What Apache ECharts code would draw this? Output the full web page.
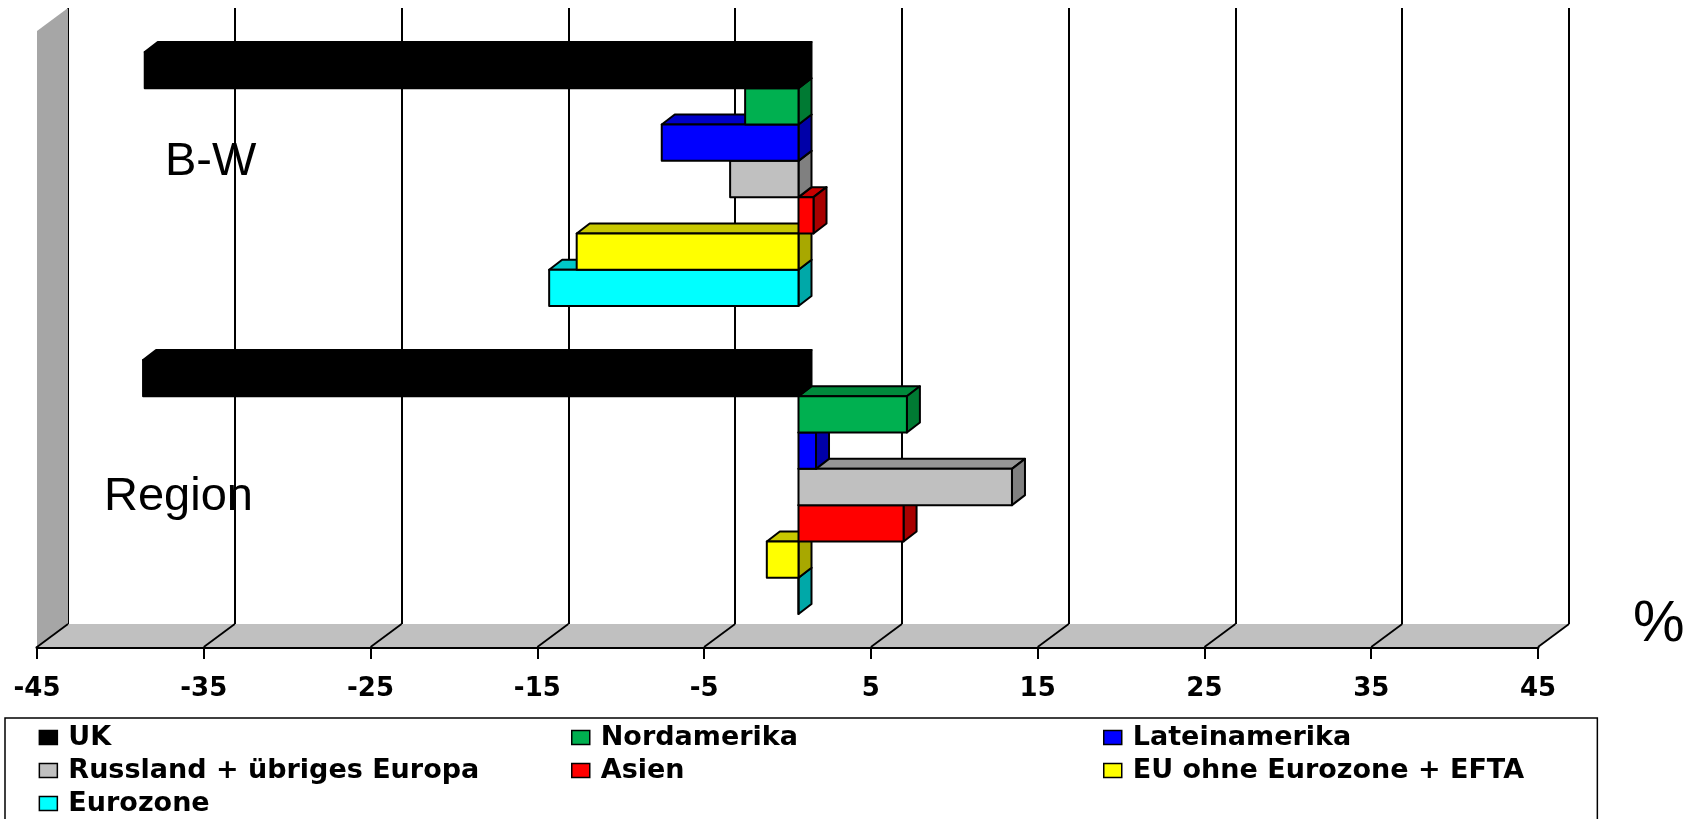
<!DOCTYPE html>
<html>
<head>
<meta charset="utf-8">
<script src="https://cdn.jsdelivr.net/npm/echarts@6/dist/echarts.min.js"></script>
<style>
html,body{margin:0;padding:0;background:#ffffff;}
#chart{width:1696px;height:819px;}
</style>
</head>
<body>
<div id="chart"></div>
<script>
// ---- data ----
const categories = ['B-W', 'Region'];
const tickValues = [-45, -35, -25, -15, -5, 5, 15, 25, 35, 45];
const seriesNames = ['UK', 'Nordamerika', 'Lateinamerika', 'Russland + übriges Europa', 'Asien', 'EU ohne Eurozone + EFTA', 'Eurozone'];
const ukValues = [-39.2, -39.3];
const nordamerikaValues = [-3.2, 6.5];
const lateinamerikaValues = [-8.2, 1.05];
const russlandValues = [-4.1, 12.8];
const asienValues = [0.9, 6.3];
const euOhneEurozoneValues = [-13.3, -1.9];
const eurozoneValues = [-14.95, 0];
const seriesValues = [ukValues, nordamerikaValues, lateinamerikaValues, russlandValues, asienValues, euOhneEurozoneValues, eurozoneValues];

// ---- styles ----
const frontColors = ['#000000', '#00B050', '#0000FF', '#C0C0C0', '#FF0000', '#FFFF00', '#00FFFF'];
const topColors   = ['#000000', '#008A3C', '#0000C8', '#969696', '#C80000', '#C8C800', '#00C8C8'];
const sideColors  = ['#000000', '#007A33', '#0000A8', '#808080', '#A80000', '#A8A800', '#00A8A8'];
const WALL_DX = 31, WALL_DY = 23;      // depth of the floor / side wall
const BAR_DX = -20, BAR_DY = 17;       // bar front plane relative to back wall
const DEPTH_DX = 13, DEPTH_DY = 10;    // bar thickness
const BAR_FRACTION = 0.825;
const boldFont = 'DejaVu Sans';
const plainFont = 'Liberation Sans';

const chart = echarts.init(document.getElementById('chart'), null, {renderer: 'canvas'});

function frameSeries() {
  return {
    type: 'custom',
    name: 'frame',
    xAxisIndex: 0, yAxisIndex: 0,
    silent: true,
    clip: false,
    z: 1,
    encode: {x: 0, y: 1},
    data: [[0, 0]],
    renderItem: function (params, api) {
      const cs = params.coordSys;
      const x0 = cs.x, x1 = cs.x + cs.width, y0 = cs.y, y1 = cs.y + cs.height;
      const children = [
        {type: 'polygon', shape: {points: [[x0, y0], [x0, y1], [x0 - WALL_DX, y1 + WALL_DY], [x0 - WALL_DX, y0 + WALL_DY]]},
          style: {fill: '#A6A6A6'}},
        {type: 'polygon', shape: {points: [[x0, y1], [x1, y1], [x1 - WALL_DX, y1 + WALL_DY], [x0 - WALL_DX, y1 + WALL_DY]]},
          style: {fill: '#C0C0C0'}}
      ];
      tickValues.forEach(function (t) {
        const px = api.coord([t, 0])[0];
        children.push({type: 'line', shape: {x1: px, y1: y1, x2: px - WALL_DX, y2: y1 + WALL_DY},
          style: {stroke: '#000', lineWidth: 1.8}});
      });
      return {type: 'group', children: children};
    }
  };
}

function barSeries(i) {
  return {
    type: 'custom',
    name: seriesNames[i],
    xAxisIndex: 0, yAxisIndex: 0,
    clip: false,
    z: 20 - i,
    itemStyle: {color: frontColors[i], borderColor: '#000', borderWidth: 1.5},
    encode: {x: 0, y: 1},
    data: seriesValues[i].map(function (v, ci) { return [v, ci]; }),
    renderItem: function (params, api) {
      const v = api.value(0), c = api.value(1);
      const p0 = api.coord([0, c]);
      const p1 = api.coord([v, c]);
      const band = api.size([0, 1])[1];
      const h = band * BAR_FRACTION / seriesNames.length;
      const top = p0[1] - band * BAR_FRACTION / 2 + i * h + BAR_DY;
      const bottom = top + h;
      const xa = Math.min(p0[0], p1[0]) + BAR_DX;
      const xb = Math.max(p0[0], p1[0]) + BAR_DX;
      const line = {stroke: '#000', lineWidth: 2, lineJoin: 'round'};
      return {
        type: 'group',
        children: [
          {type: 'polygon', shape: {points: [[xa, top], [xa + DEPTH_DX, top - DEPTH_DY], [xb + DEPTH_DX, top - DEPTH_DY], [xb, top]]},
            style: Object.assign({fill: topColors[i]}, line)},
          {type: 'polygon', shape: {points: [[xb, top], [xb + DEPTH_DX, top - DEPTH_DY], [xb + DEPTH_DX, bottom - DEPTH_DY], [xb, bottom]]},
            style: Object.assign({fill: sideColors[i]}, line)},
          {type: 'rect', shape: {x: xa, y: top, width: xb - xa, height: h},
            style: Object.assign({fill: frontColors[i]}, line)}
        ]
      };
    }
  };
}

const legendText = {fontFamily: boldFont, fontWeight: 'bold', fontSize: 27, color: '#000', lineHeight: 29, padding: [0, 0, 0, 6]};
const legendBase = {
  orient: 'vertical', icon: 'rect', itemWidth: 18, itemHeight: 14, itemGap: 4,
  height: 300,
  itemStyle: {borderColor: '#000', borderWidth: 1.5},
  selectedMode: true
};

const option = {
  backgroundColor: '#ffffff',
  animation: false,
  grid: [
    {left: 68, right: 127, top: 8, bottom: 195},
    {left: 37, right: 158, top: 31, bottom: 172}
  ],
  xAxis: [
    {
      type: 'value', gridIndex: 0, min: -45, max: 45, interval: 10,
      axisLine: {show: false}, axisTick: {show: false}, axisLabel: {show: false},
      splitLine: {show: true, lineStyle: {color: '#000', width: 2}}
    },
    {
      type: 'value', gridIndex: 1, min: -45, max: 45, interval: 10, position: 'bottom',
      axisLine: {show: true, onZero: false, lineStyle: {color: '#000', width: 3}},
      axisTick: {show: true, length: 12, lineStyle: {color: '#000', width: 2}},
      axisLabel: {show: true, margin: 29, fontFamily: boldFont, fontWeight: 'bold', fontSize: 26, color: '#000',
        formatter: function (v) { return String(v); }},
      splitLine: {show: false},
      name: '%', nameLocation: 'end', nameGap: 95,
      nameTextStyle: {fontFamily: plainFont, fontSize: 58, color: '#000', verticalAlign: 'bottom', lineHeight: 44}
    }
  ],
  yAxis: [
    {
      type: 'category', gridIndex: 0, data: categories, inverse: true,
      axisLine: {show: false}, axisTick: {show: false}, splitLine: {show: false},
      axisLabel: {
        show: true, inside: true, margin: 36,
        formatter: function (v) { return v === 'B-W' ? '{bw|' + v + '}' : '{rg|' + v + '}'; },
        rich: {
          bw: {fontFamily: plainFont, fontSize: 47, color: '#000', padding: [0, 0, 0, 61]},
          rg: {fontFamily: plainFont, fontSize: 47, color: '#000', padding: [54, 0, 0, 0]}
        }
      }
    },
    {type: 'value', gridIndex: 1, show: false}
  ],
  legend: [
    Object.assign({}, legendBase, {
      data: [seriesNames[0], seriesNames[3], seriesNames[6]],
      left: 5, top: 718,
      padding: [5, 1039, 30, 33.6],
      borderColor: '#000', borderWidth: 1.5,
      textStyle: Object.assign({}, legendText, {width: 490})
    }),
    Object.assign({}, legendBase, {
      data: [seriesNames[1], seriesNames[4]],
      left: 571, top: 723, padding: 0,
      textStyle: legendText
    }),
    Object.assign({}, legendBase, {
      data: [seriesNames[2], seriesNames[5]],
      left: 1103, top: 723, padding: 0,
      textStyle: legendText
    })
  ],
  series: [frameSeries()].concat(seriesNames.map(function (n, i) { return barSeries(i); }))
};

chart.setOption(option);
</script>
</body>
</html>
